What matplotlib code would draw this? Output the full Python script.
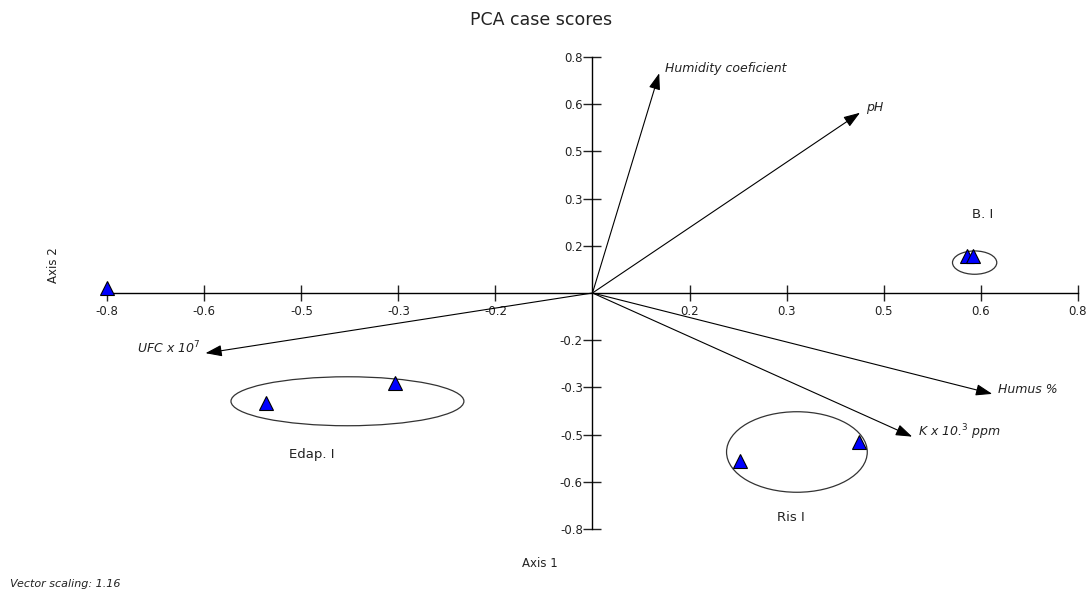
import matplotlib
matplotlib.use("Agg")
import matplotlib.pyplot as plt
from matplotlib.patches import Ellipse

# case scores (axis 1, axis 2)
score_x = [-0.80, -0.538, -0.326, 0.244, 0.439, 0.618, 0.627]
score_y = [0.017, -0.372, -0.305, -0.570, -0.504, 0.124, 0.124]

# environmental vectors
vec_names = ["Humidity coeficient", "pH", "Humus %", "K x 10.$^{3}$ ppm", "UFC x 10$^{7}$"]
vec_x = [0.110, 0.441, 0.659, 0.527, -0.638]
vec_y = [0.745, 0.611, -0.342, -0.487, -0.204]

# groups: ellipse centre, width, height and label position
group_names = ["Edap. I", "Ris I", "B. I"]
group_cx = [-0.404, 0.337, 0.630]
group_cy = [-0.367, -0.539, 0.103]
group_w = [0.384, 0.232, 0.073]
group_h = [0.166, 0.273, 0.079]
group_lx = [-0.463, 0.327, 0.643]
group_ly = [-0.549, -0.760, 0.267]

tick_vals = [-0.8, -0.64, -0.48, -0.32, -0.16, 0.16, 0.32, 0.48, 0.64, 0.8]
tick_labels = ["-0.8", "-0.6", "-0.5", "-0.3", "-0.2", "0.2", "0.3", "0.5", "0.6", "0.8"]

fig = plt.figure(figsize=(10.88, 5.91), dpi=100)
ax = fig.add_axes([0, 0, 1, 1])
ax.set_xlim(-0.9768, 0.8169)
ax.set_ylim(-1.0102, 0.9932)

# axes through origin
for side in ["top", "right"]:
    ax.spines[side].set_visible(False)
ax.spines["left"].set_position(("data", 0))
ax.spines["bottom"].set_position(("data", 0))
ax.spines["left"].set_bounds(-0.8, 0.8)
ax.spines["bottom"].set_bounds(-0.8, 0.8)
ax.spines["left"].set_linewidth(1.0)
ax.spines["bottom"].set_linewidth(1.0)
ax.patch.set_visible(False)

ax.set_xticks(tick_vals)
ax.set_xticklabels(tick_labels)
ax.set_yticks(tick_vals)
ax.set_yticklabels(tick_labels)
ax.tick_params(axis="x", direction="inout", length=11, width=1, pad=3.5, labelsize=8.5, colors="#222222")
ax.tick_params(axis="y", direction="inout", length=13, width=1, pad=0.5, labelsize=8.5, colors="#222222")

# vectors
for name, vx, vy in zip(vec_names, vec_x, vec_y):
    ax.annotate("", xy=(vx, vy), xytext=(0, 0),
                arrowprops=dict(arrowstyle="-|>,head_length=1.0,head_width=0.35",
                                mutation_scale=10, color="black", lw=0.8,
                                shrinkA=0, shrinkB=0))
    if vx < 0:
        ax.annotate(name, xy=(vx, vy), xytext=(-4, 3.5), textcoords="offset points",
                    ha="right", va="center", fontsize=9, style="italic", color="#222222")
    else:
        ax.annotate(name, xy=(vx, vy), xytext=(4, 3.5), textcoords="offset points",
                    ha="left", va="center", fontsize=9, style="italic", color="#222222")

# group ellipses
for name, cx, cy, w, h, lx, ly in zip(group_names, group_cx, group_cy, group_w, group_h,
                                       group_lx, group_ly):
    ax.add_patch(Ellipse((cx, cy), w, h, fill=False, edgecolor="#333333", lw=0.9))
    ax.text(lx, ly, name, ha="center", va="center", fontsize=9.5, color="#222222")

# case scores
ax.plot(score_x, score_y, linestyle="none", marker="^", markersize=10.5,
        markerfacecolor="#0000ff", markeredgecolor="black", markeredgewidth=0.8, zorder=5)

fig.text(0.497, 0.966, "PCA case scores", ha="center", va="center", fontsize=12.5, color="#222222")
fig.text(0.496, 0.047, "Axis 1", ha="center", va="center", fontsize=8.5, color="#222222")
fig.text(0.049, 0.552, "Axis 2", ha="center", va="center", rotation=90, fontsize=8.5, color="#222222")
fig.text(0.009, 0.012, "Vector scaling: 1.16", ha="left", va="center", fontsize=8,
         style="italic", color="#222222")

fig.savefig("out.png", dpi=100)
